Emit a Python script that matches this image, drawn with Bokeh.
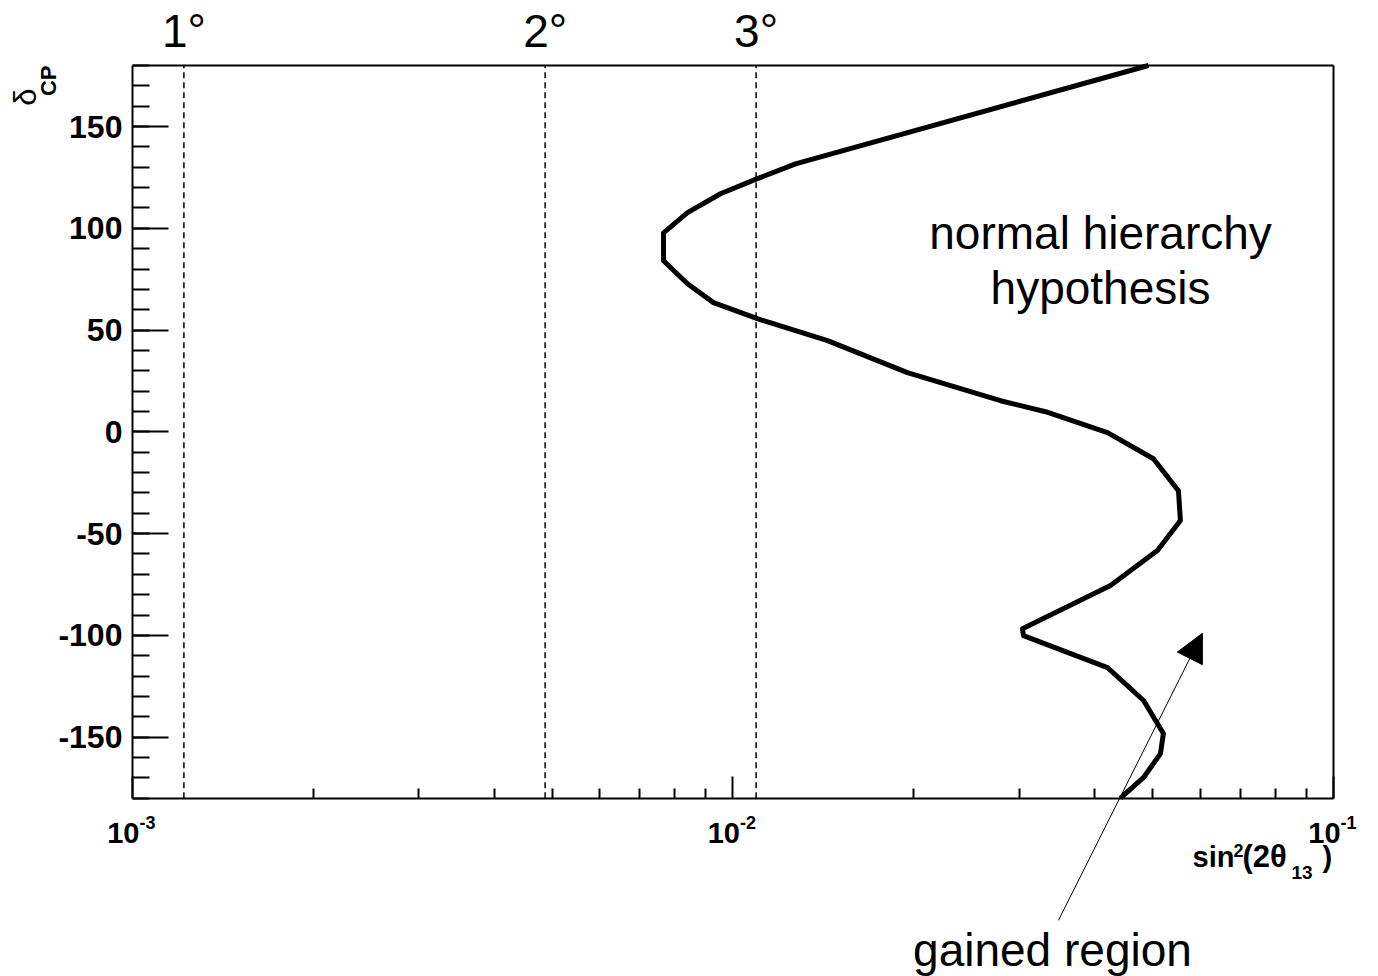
from bokeh.plotting import figure
from bokeh.models import (Range1d, FixedTicker, SingleIntervalTicker, Label,
                          Arrow, NormalHead, CustomJSTickFormatter,
                          LogAxis, LinearAxis)
from bokeh.embed import file_html
from bokeh.resources import INLINE

# Contour of the sensitivity boundary: sin^2(2 theta13) versus delta_CP
sin2_2theta13 = [0.04918, 0.01271, 0.01098, 0.009532, 0.008400, 0.007662,
                 0.007662, 0.008400, 0.009279, 0.01098, 0.01437, 0.01952,
                 0.02789, 0.03315, 0.04204, 0.05013, 0.05518, 0.05560,
                 0.05091, 0.04252, 0.03034, 0.03046, 0.04204, 0.04828,
                 0.05209, 0.05150, 0.04828, 0.04418]
delta_cp = [180, 131.7, 124.4, 117.0, 107.7, 97.8,
            84.1, 72.8, 63.5, 55.6, 44.8, 29.1,
            15.3, 9.9, -0.4, -13.2, -28.9, -43.6,
            -58.3, -75.5, -96.7, -100.1, -115.8, -132.0,
            -148.2, -158.1, -169.8, -180]

# Reference values sin^2(2 theta13) for theta13 = 1, 2, 3 degrees
ref_labels = ["1°", "2°", "3°"]
ref_values = [0.001218, 0.004866, 0.010926]

x_major = [1e-3, 1e-2, 1e-1]
x_major_exp = ["-3", "-2", "-1"]
x_minor = [m * 10.0 ** e for e in (-3, -2) for m in range(2, 10)]

# plotted box (axes drawn at these data limits)
X0, X1 = 1e-3, 1e-1
Y0, Y1 = -180, 180
# visible canvas extent in data units, leaving room for titles around the box
XV0, XV1 = 6.029e-4, 0.11883
YV0, YV1 = -267.6, 211.94

FONT = "Liberation Sans"

p = figure(width=1378, height=976, x_axis_type="log",
           x_range=Range1d(XV0, XV1), y_range=Range1d(YV0, YV1),
           output_backend="svg", toolbar_location=None,
           min_border_left=0, min_border_right=0,
           min_border_top=0, min_border_bottom=0)
p.background_fill_color = "white"
p.border_fill_color = "white"
p.outline_line_color = None
p.grid.visible = False

# y axis: ticks pointing into the box, bold labels
ya = p.yaxis[0]
ya.fixed_location = X0
ya.bounds = (Y0, Y1)
ya.ticker = SingleIntervalTicker(interval=50, num_minor_ticks=5)
ya.formatter = CustomJSTickFormatter(code="return tick.toFixed(0)")
ya.axis_line_width = 2
ya.major_tick_in = 36
ya.major_tick_out = 0
ya.minor_tick_in = 17
ya.minor_tick_out = 0
ya.major_tick_line_width = 2
ya.minor_tick_line_width = 2
ya.major_label_text_font = FONT
ya.major_label_text_font_style = "bold"
ya.major_label_text_font_size = "32px"
ya.major_label_text_color = "black"
ya.major_label_standoff = 10

# x axis: log ticks, labels drawn below as powers of ten
xa = p.xaxis[0]
xa.fixed_location = Y0
xa.bounds = (X0, X1)
xa.ticker = FixedTicker(ticks=x_major, minor_ticks=x_minor)
xa.formatter = CustomJSTickFormatter(code="return ''")
xa.axis_line_width = 2
xa.major_tick_in = 22
xa.major_tick_out = 0
xa.minor_tick_in = 10
xa.minor_tick_out = 0
xa.major_tick_line_width = 2
xa.minor_tick_line_width = 2

# closing lines of the box on top and right
top = LogAxis(fixed_location=Y1, bounds=(X0, X1),
              ticker=FixedTicker(ticks=[]),
              formatter=CustomJSTickFormatter(code="return ''"),
              axis_line_width=2, major_tick_in=0, major_tick_out=0,
              minor_tick_in=0, minor_tick_out=0)
right = LinearAxis(fixed_location=X1, bounds=(Y0, Y1),
                   ticker=FixedTicker(ticks=[]),
                   formatter=CustomJSTickFormatter(code="return ''"),
                   axis_line_width=2, major_tick_in=0, major_tick_out=0,
                   minor_tick_in=0, minor_tick_out=0)
p.add_layout(top, "above")
p.add_layout(right, "right")


def put(text, x, y, dx=0, dy=0, size=29, bold=False, align="left",
        angle=0.0):
    # dx/dy place the text baseline; the renderer sits text a little low,
    # so lift it by a fraction of the font size
    lift = 0.39 * size
    if angle == 0.0:
        dy += lift
    else:
        dx -= lift
    p.add_layout(Label(x=x, y=y, x_offset=dx, y_offset=dy, text=text,
                       angle=angle, text_align=align,
                       text_baseline="alphabetic", text_font=FONT,
                       text_font_style="bold" if bold else "normal",
                       text_font_size=f"{size}px", text_color="black"))


for xv, ex in zip(x_major, x_major_exp):
    put("10", xv, Y0, 7, -46, 29, True, "right")
    put(ex, xv, Y0, 7, -31, 18, True, "left")

# x axis title: sin^2(2 theta_13)
title_parts = [("sin", -141, -70, 29), ("2", -100, -59, 18),
               ("(2θ", -91, -70, 31), ("13", -42, -82, 19),
               (")", -11, -70, 29)]
for txt, dx, dy, fs in title_parts:
    put(txt, X1, Y0, dx, dy, fs, True, "left")

# y axis title: delta_CP, rotated
put("δ", X0, Y1, -95, -23, 31, False, "right", 1.5708)
put("CP", X0, Y1, -75, 0, 22, True, "right", 1.5708)

# dashed reference lines and their labels
p.segment(x0=ref_values, y0=[Y0] * 3, x1=ref_values, y1=[Y1] * 3,
          line_color="black", line_width=1.5, line_dash="6 4")
for lab, xv in zip(ref_labels, ref_values):
    put(lab, xv, Y1, 0, 17, 46, False, "center")

# contour line
p.line(sin2_2theta13, delta_cp, line_color="black", line_width=5,
       line_join="round")

# annotations
put("normal hierarchy", 0.04093, 89, 0, 0, 46, False, "center")
put("hypothesis", 0.04093, 62, 0, 0, 46, False, "center")
put("gained region", 0.03404, -263.5, 0, 0, 46, False, "center")
p.add_layout(Arrow(end=NormalHead(size=28, fill_color="black",
                                  line_color="black"),
                   x_start=0.03483, y_start=-240, x_end=0.06049, y_end=-99,
                   line_color="black", line_width=1))

open("out.html", "w").write(file_html(p, INLINE))
